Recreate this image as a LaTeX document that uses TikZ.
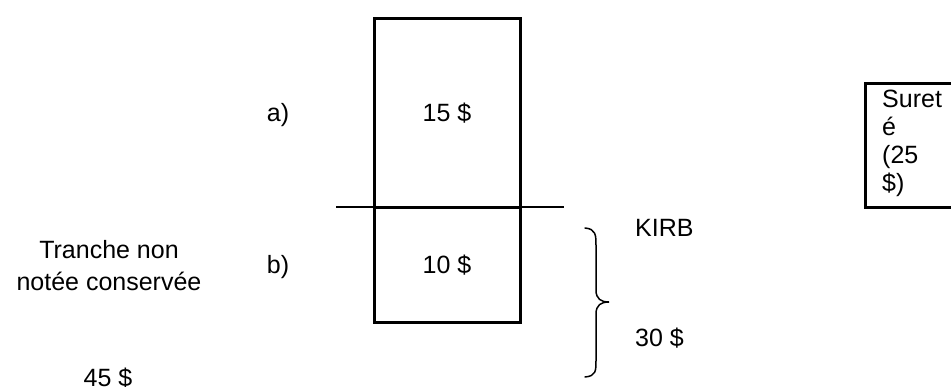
\documentclass[tikz,border=0pt]{standalone}
\usepackage{fontspec}
\setmainfont{Liberation Sans}
\begin{document}
\begin{tikzpicture}[x=1pt,y=-1pt,
  txt/.style={font=\fontsize{25}{32}\selectfont, inner sep=0pt, anchor=base},
  boxa/.style={draw, line width=3pt, inner sep=0pt},
  thinline/.style={line width=1.5pt, line cap=round},
  midline/.style={line width=2.2pt}]
\useasboundingbox (0,0) rectangle (951,386);
\clip (0,0) rectangle (951,386);
% stacked boxes
\node[boxa, minimum width=146pt, minimum height=189pt] (top) at (447,112.5) {};
\node[boxa, minimum width=146pt, minimum height=115pt] (bot) at (447,264.5) {};
\coordinate (hl) at (336,207);
\coordinate (hr) at (564,207);
\draw[midline] (hl) -- (hr);
% labels
\node[txt] (v15) at (447,121) {15 \$};
\node[txt] (v10) at (447,273) {10 \$};
\node[txt] (la) at (278,121) {a)};
\node[txt] (lb) at (278,273) {b)};
\node[txt, align=center] (tr) at (109,290) {Tranche non\\notée conservée};
\node[txt] (v45) at (108,386) {45 \$};
\node[txt, anchor=base west] (kirb) at (635,236) {KIRB};
\node[txt, anchor=base west] (v30) at (635,346) {30 \$};
% brace
\draw[thinline] (585,228) .. controls (596,229) and (596,235) .. (596,246)
  -- (596,290) .. controls (596,299) and (601,302) .. (609,302)
  .. controls (601,302) and (596,305) .. (596,314)
  -- (596,360) .. controls (596,371) and (596,376) .. (585,377);
% surete box
\draw[line width=3pt] (960,83) -- (865,83) -- (865,207) -- (960,207);
\node[font=\fontsize{25}{28}\selectfont, inner sep=0pt, align=left, anchor=base west] (sur) at (882,191) {Suret\\é\\(25\\\$)};
\end{tikzpicture}
\end{document}
